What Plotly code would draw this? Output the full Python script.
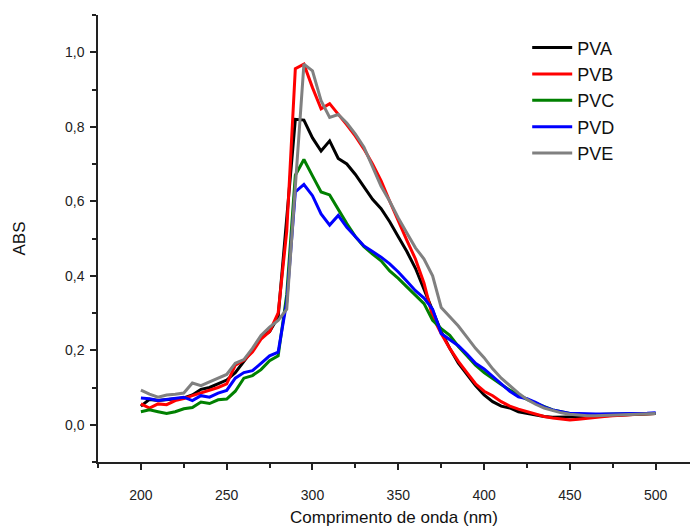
import plotly.graph_objects as go

wavelength = list(range(200, 505, 5))

pva = [0.050, 0.068, 0.065, 0.068, 0.070, 0.072, 0.080, 0.095, 0.100, 0.110,
       0.120, 0.140, 0.170, 0.200, 0.235, 0.250, 0.290, 0.550, 0.820, 0.818,
       0.770, 0.735, 0.762, 0.715, 0.700, 0.672, 0.640, 0.605, 0.580, 0.545,
       0.505, 0.465, 0.420, 0.365, 0.305, 0.250, 0.205, 0.165, 0.135, 0.105,
       0.080, 0.062, 0.050, 0.045, 0.035, 0.030, 0.025, 0.022, 0.020, 0.020,
       0.020, 0.020, 0.020, 0.022, 0.024, 0.025, 0.026, 0.027, 0.028, 0.029,
       0.030]

pvb = [0.056, 0.045, 0.056, 0.054, 0.065, 0.070, 0.078, 0.085, 0.092, 0.100,
       0.110, 0.160, 0.173, 0.195, 0.230, 0.250, 0.300, 0.520, 0.956, 0.968,
       0.905, 0.848, 0.862, 0.835, 0.805, 0.775, 0.740, 0.700, 0.655, 0.600,
       0.545, 0.495, 0.445, 0.380, 0.290, 0.245, 0.205, 0.170, 0.140, 0.110,
       0.090, 0.078, 0.062, 0.050, 0.042, 0.035, 0.028, 0.022, 0.018, 0.015,
       0.013, 0.015, 0.018, 0.020, 0.022, 0.024, 0.026, 0.027, 0.028, 0.029,
       0.030]

pvc = [0.035, 0.040, 0.035, 0.030, 0.035, 0.043, 0.046, 0.061, 0.057, 0.067,
       0.069, 0.090, 0.125, 0.132, 0.148, 0.172, 0.185, 0.350, 0.670, 0.712,
       0.668, 0.625, 0.617, 0.577, 0.540, 0.505, 0.478, 0.458, 0.440, 0.413,
       0.393, 0.370, 0.348, 0.325, 0.280, 0.258, 0.240, 0.210, 0.185, 0.160,
       0.140, 0.123, 0.108, 0.093, 0.080, 0.068, 0.058, 0.048, 0.040, 0.035,
       0.030, 0.028, 0.027, 0.027, 0.028, 0.028, 0.029, 0.029, 0.030, 0.030,
       0.030]

pvd = [0.072, 0.070, 0.065, 0.068, 0.072, 0.074, 0.065, 0.078, 0.074, 0.085,
       0.092, 0.125, 0.140, 0.145, 0.165, 0.185, 0.195, 0.330, 0.625, 0.645,
       0.615, 0.566, 0.536, 0.562, 0.530, 0.505, 0.480, 0.465, 0.450, 0.432,
       0.410, 0.385, 0.360, 0.340, 0.310, 0.245, 0.228, 0.212, 0.190, 0.165,
       0.150, 0.130, 0.110, 0.090, 0.075, 0.070, 0.060, 0.048, 0.040, 0.035,
       0.030, 0.030, 0.029, 0.029, 0.029, 0.029, 0.029, 0.030, 0.030, 0.031,
       0.032]

pve = [0.093, 0.082, 0.074, 0.080, 0.082, 0.085, 0.112, 0.105, 0.115, 0.125,
       0.135, 0.165, 0.175, 0.205, 0.240, 0.262, 0.280, 0.310, 0.630, 0.968,
       0.950, 0.870, 0.825, 0.833, 0.810, 0.780, 0.745, 0.690, 0.640, 0.600,
       0.555, 0.515, 0.475, 0.445, 0.400, 0.315, 0.290, 0.265, 0.235, 0.205,
       0.180, 0.150, 0.125, 0.105, 0.085, 0.068, 0.055, 0.045, 0.038, 0.032,
       0.028, 0.025, 0.024, 0.024, 0.025, 0.026, 0.027, 0.028, 0.028, 0.029,
       0.030]

series = [
    ("PVA", pva, "#000000"),
    ("PVB", pvb, "#ff0000"),
    ("PVC", pvc, "#008000"),
    ("PVD", pvd, "#0000ff"),
    ("PVE", pve, "#808080"),
]

fig = go.Figure()
for name, values, color in series:
    fig.add_trace(go.Scatter(
        x=wavelength, y=values, name=name, mode="lines",
        line=dict(color=color, width=3)
    ))

axis_font = dict(family="Liberation Sans, Arial, sans-serif", size=14, color="#222")

fig.update_layout(
    width=691, height=529,
    margin=dict(l=98, r=1, t=15, b=67),
    plot_bgcolor="white", paper_bgcolor="white",
    separators=",.",
    font=dict(family="Liberation Sans, Arial, sans-serif", size=14, color="#222"),
    showlegend=True,
    legend=dict(
        x=0.725, y=0.968, xanchor="left", yanchor="top",
        font=dict(size=18, color="#111"),
        bgcolor="rgba(0,0,0,0)", tracegroupgap=0, itemwidth=40,
    ),
)

fig.update_xaxes(
    range=[175, 520], tick0=200, dtick=50, automargin=False,
    showline=True, linecolor="#222", linewidth=1.5,
    ticks="outside", ticklen=6, tickwidth=1.5, tickcolor="#222",
    minor=dict(ticks="outside", dtick=25, ticklen=4, tickwidth=1.5, tickcolor="#222"),
    showgrid=False, zeroline=False, tickfont=axis_font, ticklabelstandoff=13,
    title=dict(text="Comprimento de onda (nm)", font=dict(size=17, color="#111"), standoff=10),
)

fig.update_yaxes(
    range=[-0.1, 1.1], tick0=0, dtick=0.2, tickformat=".1f", automargin=False,
    showline=True, linecolor="#222", linewidth=1.5,
    ticks="outside", ticklen=6, tickwidth=1.5, tickcolor="#222",
    minor=dict(ticks="outside", dtick=0.1, ticklen=4, tickwidth=1.5, tickcolor="#222"),
    showgrid=False, zeroline=False, tickfont=axis_font, ticklabelstandoff=3,
    title=dict(text="ABS", font=dict(size=17, color="#111"), standoff=35),
)

# drop the default page margin so the figure sits at the window corner
fig.write_html(
    "out.html",
    config={"displayModeBar": False},
    post_script="document.body.style.margin='0';",
)
